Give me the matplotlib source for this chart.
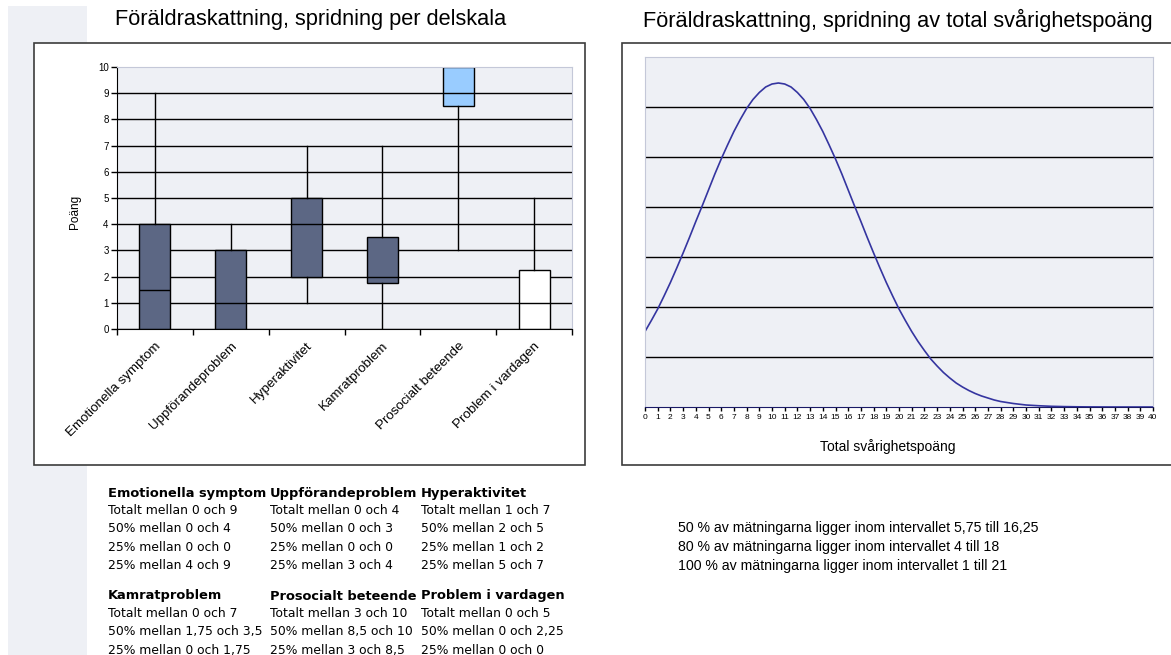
import matplotlib
matplotlib.use("Agg")
import numpy as np
import matplotlib.pyplot as plt
from matplotlib.patches import Rectangle
from matplotlib.transforms import Bbox, TransformedBbox

plt.rcParams['font.family'] = ['Liberation Sans', 'DejaVu Sans']

# --- data -------------------------------------------------------------
categories = ['Emotionella symptom', 'Uppförandeproblem', 'Hyperaktivitet',
              'Kamratproblem', 'Prosocialt beteende', 'Problem i vardagen']
q_min = [0, 0, 1, 0, 3, 0]
q1 = [0, 0, 2, 1.75, 8.5, 0]
median = [1.5, 1, 4, 2, 9, 1]
q3 = [4, 3, 5, 3.5, 10, 2.25]
q_max = [9, 4, 7, 7, 10, 5]

# total difficulty score curve (grid units)
score = [0, 0.5, 1, 1.5, 2, 2.5, 3, 3.5, 4, 4.5, 5, 5.5, 6, 6.5, 7, 7.5, 8, 8.5,
         9, 9.5, 10, 10.5, 11, 11.5, 12, 12.5, 13, 13.5, 14, 14.5, 15, 15.5, 16,
         16.5, 17, 17.5, 18, 18.5, 19, 19.5, 20, 20.5, 21, 21.5, 22, 22.5, 23,
         23.5, 24, 24.5, 25, 25.5, 26, 26.5, 27, 27.5, 28, 28.5, 29, 29.5, 30,
         31, 32, 33, 34, 35, 36, 37, 38, 39, 40]
density = [1.51, 1.73, 1.96, 2.22, 2.49, 2.78, 3.08, 3.39, 3.71, 4.02, 4.34, 4.66,
           4.96, 5.24, 5.51, 5.75, 5.97, 6.15, 6.29, 6.40, 6.46, 6.48, 6.46, 6.40,
           6.29, 6.15, 5.97, 5.75, 5.51, 5.24, 4.96, 4.66, 4.34, 4.02, 3.71, 3.39,
           3.08, 2.78, 2.49, 2.22, 1.96, 1.73, 1.51, 1.31, 1.13, 0.96, 0.82, 0.69,
           0.58, 0.48, 0.40, 0.33, 0.27, 0.22, 0.18, 0.14, 0.11, 0.09, 0.07, 0.055,
           0.04, 0.025, 0.014, 0.008, 0.004, 0.002, 0.001, 0.0, 0.0, 0.0, 0.0]

interval_pct = [50, 80, 100]
interval_lo = [5.75, 4, 1]
interval_hi = [16.25, 18, 21]

box_colors = ['#5c6784', '#5c6784', '#5c6784', '#5c6784', '#99ccff', '#ffffff']

W, H = 1171, 655
fig = plt.figure(figsize=(W / 100, H / 100), dpi=100)


def fx(x):
    return x / W


def fy(y):
    return 1 - y / H


def num(v):
    return f"{v:g}".replace('.', ',')


# background strip and chart frames
fig.add_artist(Rectangle((fx(8), 0), fx(87) - fx(8), fy(6), transform=fig.transFigure,
                         facecolor='#eef0f5', edgecolor='none', zorder=-3))
for x0, x1 in [(34, 585), (622, 1180)]:
    fig.add_artist(Rectangle((fx(x0), fy(465)), fx(x1) - fx(x0), fy(43) - fy(465),
                             transform=fig.transFigure, facecolor='white',
                             edgecolor='#3c3c3c', lw=1.2, zorder=-2))

# --- left: box plot per subscale -------------------------------------
ax1 = fig.add_axes([fx(117), fy(329), fx(572) - fx(117), fy(67) - fy(329)])
ax1.set_facecolor('#eef0f5')
stats = [dict(med=m, q1=a, q3=b, whislo=lo, whishi=hi, fliers=[])
         for m, a, b, lo, hi in zip(median, q1, q3, q_min, q_max)]
bp = ax1.bxp(stats, positions=range(len(categories)), widths=0.41, patch_artist=True,
             showcaps=False, boxprops=dict(edgecolor='black', linewidth=1),
             whiskerprops=dict(color='black', linewidth=1),
             medianprops=dict(color='black', linewidth=1))
for patch, c in zip(bp['boxes'], box_colors):
    patch.set_facecolor(c)

ax1.set_xlim(-0.5, 5.5)
ax1.set_ylim(0, 10)
ax1.set_axisbelow(True)
ax1.set_yticks(range(11))
ax1.tick_params(axis='y', labelsize=7, length=4, width=1, pad=2)
ax1.yaxis.grid(True, color='black', linewidth=1)
ax1.get_ygridlines()[-1].set_visible(False)
ax1.set_xticks(range(len(categories)))
ax1.set_xticklabels(categories, rotation=45, ha='right', rotation_mode='anchor', fontsize=9.6)
ax1.tick_params(axis='x', which='major', length=0, pad=8)
ax1.set_xticks(np.arange(-0.5, 6, 1), minor=True)
ax1.tick_params(axis='x', which='minor', length=4, width=1)
for s in ['top', 'right']:
    ax1.spines[s].set_color('#c4c8d8')
for s in ['left', 'bottom']:
    ax1.spines[s].set_color('black')
fig.text(fx(75), fy(212), 'Poäng', rotation=90, fontsize=8.5, ha='center', va='center')
fig.text(fx(311), fy(20), 'Föräldraskattning, spridning per delskala', fontsize=15.7,
         ha='center', va='center')

# --- right: distribution of total score --------------------------------
ax2 = fig.add_axes([fx(645), fy(407), fx(1153) - fx(645), fy(57) - fy(407)])
ax2.set_facecolor('#eef0f5')
ax2.plot(score, density, color='#3535a0', lw=1.2)
ax2.set_xlim(0, 40)
ax2.set_ylim(0, 7)
ax2.set_axisbelow(True)
ax2.set_yticks(range(1, 7))
ax2.set_yticklabels([])
ax2.tick_params(axis='y', length=0)
ax2.yaxis.grid(True, color='black', linewidth=1)
ax2.set_xticks(range(41))
ax2.tick_params(axis='x', labelsize=6, length=3, width=1, pad=2)
for s in ['top', 'right', 'left']:
    ax2.spines[s].set_color('#c4c8d8')
ax2.spines['bottom'].set_color('#1a1a66')
fig.text(fx(888), fy(447), 'Total svårighetspoäng', fontsize=10, ha='center', va='center')
fig.text(fx(898), fy(20), 'Föräldraskattning, spridning av total svårighetspoäng',
         fontsize=15.7, ha='center', va='center')

# --- summary text -----------------------------------------------------
col_x = [108, 270, 421]
col_right = [268, 419, 580]
blocks = [(493, [0, 1, 2], 4), (596, [3, 4, 5], 3)]
for y0, idxs, nrows in blocks:
    for c, i in enumerate(idxs):
        t = fig.text(fx(col_x[c]), fy(y0), categories[i], fontsize=9.4, fontweight='bold',
                     family='DejaVu Sans', ha='left', va='center')
        t.set_clip_on(True)
        t.set_clip_box(TransformedBbox(Bbox.from_extents(fx(col_x[c]), 0, fx(col_right[c]), 1),
                                       fig.transFigure))
        lines = [f"Totalt mellan {num(q_min[i])} och {num(q_max[i])}",
                 f"50% mellan {num(q1[i])} och {num(q3[i])}",
                 f"25% mellan {num(q_min[i])} och {num(q1[i])}",
                 f"25% mellan {num(q3[i])} och {num(q_max[i])}"]
        for r, line in enumerate(lines[:nrows]):
            fig.text(fx(col_x[c]), fy(y0 + 17.5 + 18.3 * r), line, fontsize=8.9,
                     family='DejaVu Sans', ha='left', va='center')

for r, (p, lo, hi) in enumerate(zip(interval_pct, interval_lo, interval_hi)):
    fig.text(fx(678), fy(528 + 19 * r),
             f"{p} % av mätningarna ligger inom intervallet {num(lo)} till {num(hi)}",
             fontsize=10.2, ha='left', va='center')

fig.savefig('out.png', dpi=100)
